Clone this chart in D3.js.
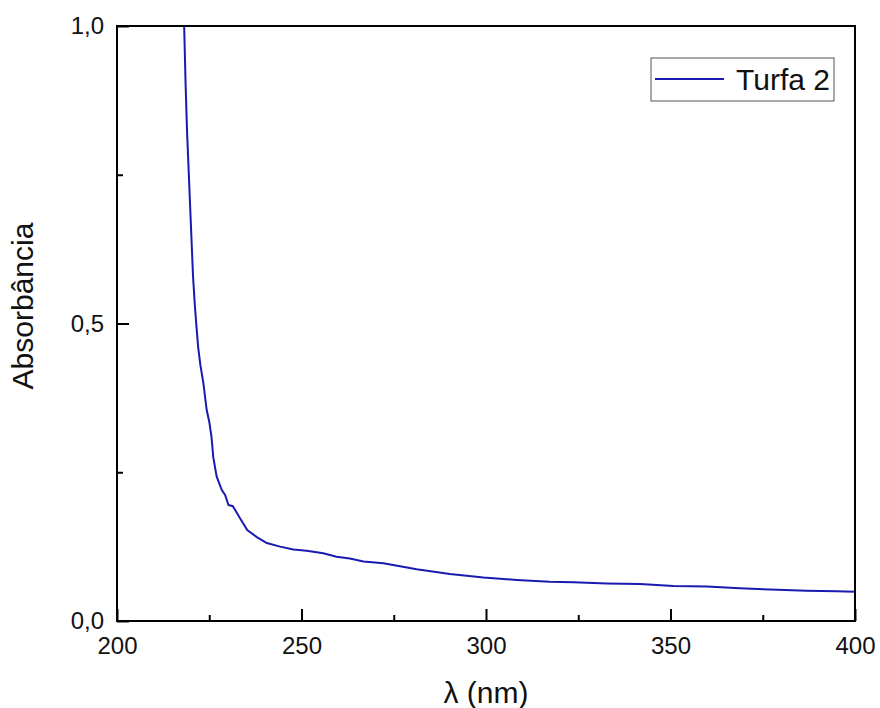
<!DOCTYPE html>
<html><head><meta charset="utf-8">
<script src="https://cdn.jsdelivr.net/npm/d3@7"></script>
<style>body{margin:0;background:#fff}svg{display:block}text{font-family:Arial,"Liberation Sans",sans-serif;fill:#111}</style>
</head><body><div id="c"></div>
<script>
const wavelength = [218.0,218.2,218.6,219.0,219.4,219.8,220.2,220.6,221.1,221.6,222.0,222.6,223.4,224.3,225.0,225.6,226.1,227.0,228.4,229.3,230.2,231.4,233.3,235.3,237.9,240.6,244.2,247.8,251.4,255.9,259.5,263.1,266.8,272.2,281.2,290.2,299.3,308.3,317.3,323.7,332.7,341.7,350.8,359.8,368.8,377.0,386.9,395.0,400.0];
const absorbance = [1.03,1.00,0.90,0.82,0.76,0.70,0.64,0.58,0.53,0.49,0.46,0.43,0.40,0.355,0.335,0.31,0.275,0.243,0.220,0.212,0.195,0.193,0.173,0.153,0.141,0.131,0.125,0.120,0.118,0.114,0.108,0.105,0.100,0.097,0.087,0.079,0.073,0.069,0.066,0.065,0.063,0.062,0.059,0.058,0.055,0.053,0.051,0.050,0.049];
const xMajor = [200,250,300,350,400];
const xMinor = [225,275,325,375];
const yMajor = [0,0.5,1.0];
const yMinor = [0.25,0.75];
const seriesName = "Turfa 2";

const W=880,H=708, L=117,R=855,T=26,B=621;
const svg=d3.select("#c").append("svg").attr("width",W).attr("height",H);
const x=d3.scaleLinear().domain([200,400]).range([L,R]);
const y=d3.scaleLinear().domain([0,1]).range([B,T]);
const fmt=d=>d3.format(".1f")(d).replace(".",",");

svg.append("defs").append("clipPath").attr("id","clip").append("rect").attr("x",L).attr("y",T).attr("width",R-L).attr("height",B-T);

const line=d3.line().x((d,i)=>x(wavelength[i])).y(d=>y(d));
svg.append("path").datum(absorbance).attr("d",line).attr("fill","none").attr("stroke","#1a1ab0").attr("stroke-width",2).attr("clip-path","url(#clip)");

// frame
svg.append("rect").attr("x",L).attr("y",T).attr("width",R-L).attr("height",B-T).attr("fill","none").attr("stroke","#000").attr("stroke-width",2);

// x axis
const xa=svg.append("g").attr("transform",`translate(0,${B})`);
xa.call(d3.axisBottom(x).tickValues(xMajor).tickSize(-12).tickPadding(16).tickFormat(d3.format("d")));
const xm=svg.append("g").attr("transform",`translate(0,${B})`);
xm.call(d3.axisBottom(x).tickValues(xMinor).tickSize(-6).tickFormat(""));
// y axis
const ya=svg.append("g").attr("transform",`translate(${L},0)`);
ya.call(d3.axisLeft(y).tickValues(yMajor).tickSize(-12).tickPadding(13).tickFormat(fmt));
const ym=svg.append("g").attr("transform",`translate(${L},0)`);
ym.call(d3.axisLeft(y).tickValues(yMinor).tickSize(-6).tickFormat(""));
svg.selectAll(".domain").remove();
svg.selectAll(".tick line").attr("stroke","#000").attr("stroke-width",2);
svg.selectAll(".tick text").attr("font-size",24).attr("font-family","Arial, 'Liberation Sans', sans-serif").attr("fill","#111");

// axis titles
svg.append("text").attr("x",486).attr("y",703).attr("text-anchor","middle").attr("font-size",30).text("λ (nm)");
svg.append("text").attr("transform","translate(33,306) rotate(-90)").attr("text-anchor","middle").attr("font-size",30).text("Absorbância");

// legend
const lg=svg.append("g");
lg.append("rect").attr("x",651).attr("y",58).attr("width",183).attr("height",43).attr("fill","#fff").attr("stroke","#555").attr("stroke-width",1);
lg.append("line").attr("x1",655).attr("x2",724).attr("y1",79).attr("y2",79).attr("stroke","#1a1ab0").attr("stroke-width",2);
lg.append("text").attr("x",736).attr("y",90).attr("font-size",30).text(seriesName);
</script></body></html>
